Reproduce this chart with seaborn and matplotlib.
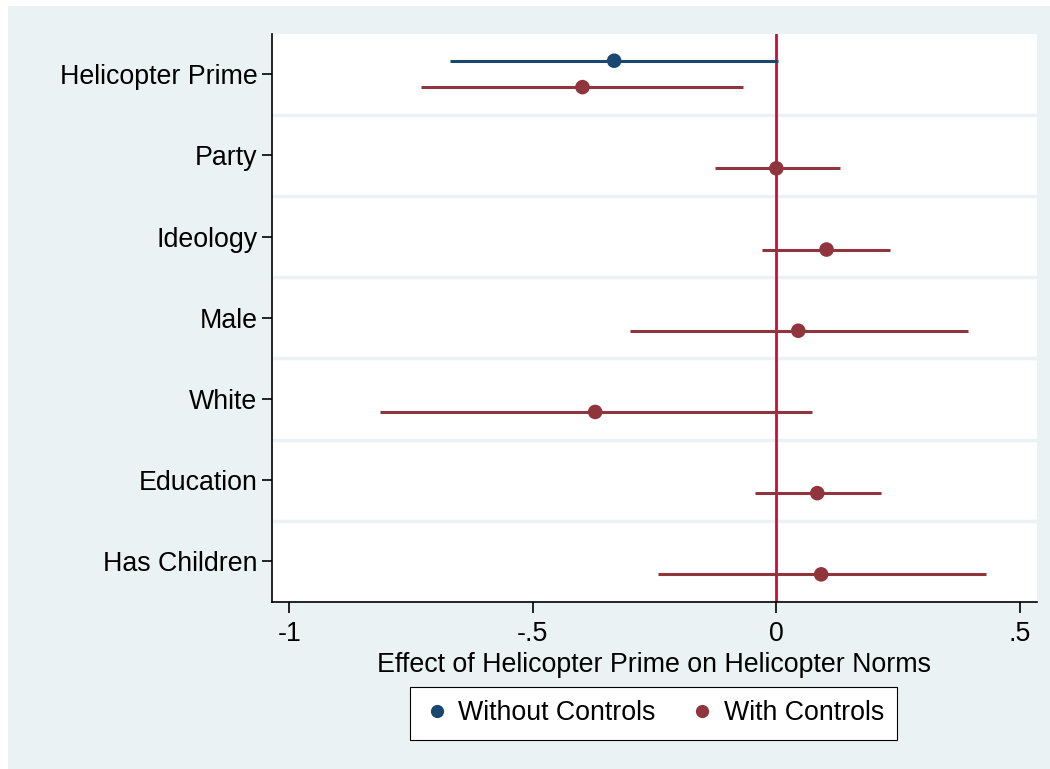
import numpy as np
import pandas as pd
import matplotlib
matplotlib.use('Agg')
import matplotlib.pyplot as plt
from matplotlib.patches import Rectangle
from matplotlib.lines import Line2D
import seaborn as sns

# coefficient estimates
variables = ['Helicopter Prime', 'Party', 'Ideology', 'Male', 'White',
             'Education', 'Has Children']

nc_vars = ['Helicopter Prime']
nc_coef = [-0.333]
nc_lo = [-0.669]
nc_hi = [0.004]

wc_vars = variables
wc_coef = [-0.398, 0.000, 0.103, 0.045, -0.372, 0.084, 0.092]
wc_lo = [-0.729, -0.127, -0.029, -0.300, -0.813, -0.043, -0.244]
wc_hi = [-0.068, 0.131, 0.234, 0.394, 0.074, 0.214, 0.431]

xticks = [-1, -0.5, 0, 0.5]
xticklabels = ['-1', '-.5', '0', '.5']

BLUE = '#1a476f'
RED = '#90353b'
LINE = '#cc0c3c'
BG = '#eaf2f3'
FS = 19.3

sns.set_style('white')
plt.rcParams['font.family'] = ['Liberation Sans', 'DejaVu Sans']
plt.rcParams['text.color'] = 'black'
plt.rcParams['axes.labelcolor'] = 'black'
plt.rcParams['xtick.color'] = 'black'
plt.rcParams['ytick.color'] = 'black'

pos = {v: i + 1 for i, v in enumerate(variables)}
df_nc = pd.DataFrame({'var': nc_vars, 'coef': nc_coef, 'lo': nc_lo, 'hi': nc_hi})
df_wc = pd.DataFrame({'var': wc_vars, 'coef': wc_coef, 'lo': wc_lo, 'hi': wc_hi})
df_nc['y'] = df_nc['var'].map(pos) - 0.165
df_wc['y'] = df_wc['var'].map(pos) + 0.16

fig = plt.figure(figsize=(10.5, 7.69), dpi=100, facecolor='white')
fig.patches.append(Rectangle((8 / 1050, 0), 1 - 8 / 1050, 1 - 6 / 769,
                             transform=fig.transFigure, facecolor=BG,
                             edgecolor='none', zorder=-10))
ax = fig.add_axes([0.2590, 0.2172, 0.9876 - 0.2590, 0.9564 - 0.2172])
ax.set_facecolor('white')

# row separators
for k in range(1, len(variables)):
    ax.axhline(k + 0.5, color=BG, lw=2.5, zorder=1)

ax.axvline(0, color=LINE, lw=2, zorder=2)

ax.hlines(df_nc['y'], df_nc['lo'], df_nc['hi'], color=BLUE, lw=2.2, zorder=3)
ax.hlines(df_wc['y'], df_wc['lo'], df_wc['hi'], color=RED, lw=2.2, zorder=3)
sns.scatterplot(data=df_nc, x='coef', y='y', color=BLUE, s=110,
                edgecolor='none', ax=ax, zorder=4)
sns.scatterplot(data=df_wc, x='coef', y='y', color=RED, s=110,
                edgecolor='none', ax=ax, zorder=4)

ax.set_xlim(-1.0355, 0.535)
ax.set_ylim(len(variables) + 0.5, 0.5)
ax.set_yticks(range(1, len(variables) + 1))
ax.set_yticklabels(variables, fontsize=FS)
ax.set_xticks(xticks)
ax.set_xticklabels(xticklabels, fontsize=FS)
ax.tick_params(axis='y', direction='out', length=7.5, width=1.2,
               color='black', labelcolor='black', left=True, pad=3)
ax.tick_params(axis='x', direction='out', length=8, width=1.2,
               color='black', labelcolor='black', bottom=True, pad=6)
ax.set_ylabel('')
ax.set_xlabel('Effect of Helicopter Prime on Helicopter Norms', fontsize=FS,
              labelpad=3, color='black')

for side in ['top', 'right']:
    ax.spines[side].set_visible(False)
for side in ['left', 'bottom']:
    ax.spines[side].set_color('black')
    ax.spines[side].set_linewidth(1.2)

handles = [Line2D([], [], marker='o', ls='none', color=BLUE, markersize=8.5),
           Line2D([], [], marker='o', ls='none', color=RED, markersize=8.5)]
leg = fig.legend(handles, ['Without Controls', 'With Controls'], ncol=2,
                 loc='center', bbox_to_anchor=(0.6225, 0.0722), fontsize=FS,
                 frameon=True, fancybox=False, edgecolor='black',
                 facecolor='white', framealpha=1,
                 handletextpad=0.3, columnspacing=1.25, borderpad=0.5,
                 handlelength=1.0)
leg.get_frame().set_linewidth(0.8)
for t in leg.get_texts():
    t.set_color('black')

fig.savefig('out.png', dpi=100, facecolor=fig.get_facecolor())
